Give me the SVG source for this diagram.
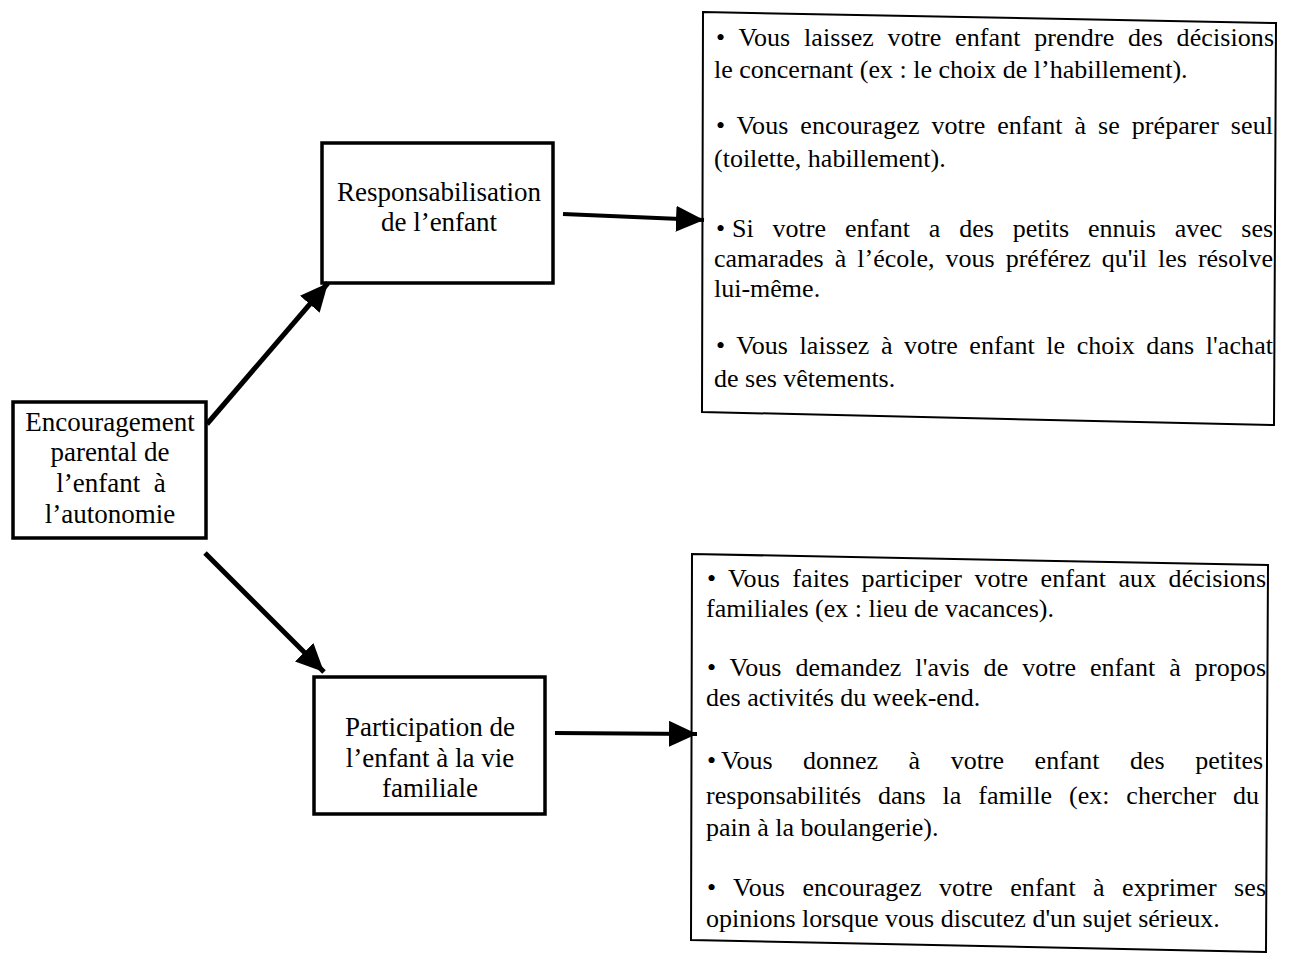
<svg xmlns="http://www.w3.org/2000/svg" width="1292" height="953" viewBox="0 0 1292 953">
<style>
.box{fill:none;stroke:#000;stroke-width:3.5}
.tbox{fill:none;stroke:#000;stroke-width:2}
.lbl{font-family:"Liberation Serif","Times New Roman",serif;font-size:27px;fill:#000;text-anchor:middle}
.txt{font-family:"Liberation Serif","Times New Roman",serif;font-size:26px;fill:#000}
.conn{stroke:#000;stroke-width:5;fill:none}
</style>
<defs>
<marker id="ah" markerUnits="userSpaceOnUse" markerWidth="30" markerHeight="26" refX="28" refY="13" orient="auto">
<path d="M0,0 L28,13 L0,26 z" fill="#000"/>
</marker>
</defs>
<rect width="1292" height="953" fill="#fff"/>
<g id="connectors">
<line class="conn" x1="207" y1="424" x2="328" y2="283" marker-end="url(#ah)"/>
<line class="conn" x1="205" y1="553" x2="324" y2="672" marker-end="url(#ah)"/>
<line class="conn" x1="563" y1="214" x2="704" y2="220" marker-end="url(#ah)" style="stroke-width:4"/>
<line class="conn" x1="555" y1="733" x2="697" y2="734" marker-end="url(#ah)" style="stroke-width:4"/>
</g>
<g id="n-encouragement">
<rect class="box" x="13" y="402" width="193" height="136"/>
<text class="lbl" x="110" y="431">Encouragement</text>
<text class="lbl" x="110" y="461">parental de</text>
<text class="lbl" x="111" y="492">l’enfant&#160; à</text>
<text class="lbl" x="110" y="523">l’autonomie</text>
</g>
<g id="n-responsabilisation">
<rect class="box" x="322" y="143" width="231" height="140"/>
<text class="lbl" x="439" y="201">Responsabilisation</text>
<text class="lbl" x="439" y="231">de l’enfant</text>
</g>
<g id="n-participation">
<rect class="box" x="314" y="677" width="231" height="137"/>
<text class="lbl" x="430" y="736">Participation de</text>
<text class="lbl" x="430" y="767">l’enfant à la vie</text>
<text class="lbl" x="430" y="797">familiale</text>
</g>
<g id="n-items-top">
<polygon class="tbox" points="703,12 1276,23 1274,425 702,412"/>
<text class="txt" x="716" y="46" word-spacing="7.1" textLength="558" lengthAdjust="spacing">• Vous laissez votre enfant prendre des décisions</text>
<text class="txt" x="714" y="78">le concernant (ex : le choix de l’habillement).</text>
<text class="txt" x="716" y="134" word-spacing="5.3" textLength="557" lengthAdjust="spacing">• Vous encouragez votre enfant à se préparer seul</text>
<text class="txt" x="714" y="167">(toilette, habillement).</text>
<text class="txt" x="716" y="237">•<tspan x="732" word-spacing="12.4">Si votre enfant a des petits ennuis avec ses</tspan></text>
<text class="txt" x="714" y="267" word-spacing="4.5" textLength="559" lengthAdjust="spacing">camarades à l’école, vous préférez qu'il les résolve</text>
<text class="txt" x="714" y="297">lui-même.</text>
<text class="txt" x="716" y="354" word-spacing="4.9" textLength="557" lengthAdjust="spacing">• Vous laissez à votre enfant le choix dans l'achat</text>
<text class="txt" x="714" y="387">de ses vêtements.</text>
</g>
<g id="n-items-bottom">
<polygon class="tbox" points="692,554 1268,565 1266,952 691,940"/>
<text class="txt" x="707" y="587" word-spacing="5.8" textLength="559" lengthAdjust="spacing">• Vous faites participer votre enfant aux décisions</text>
<text class="txt" x="706" y="617">familiales (ex : lieu de vacances).</text>
<text class="txt" x="707" y="676" word-spacing="7.3" textLength="559" lengthAdjust="spacing">• Vous demandez l'avis de votre enfant à propos</text>
<text class="txt" x="706" y="706">des activités du week-end.</text>
<text class="txt" x="707" y="769">•<tspan x="721" word-spacing="24">Vous donnez à votre enfant des petites</tspan></text>
<text class="txt" x="706" y="804" word-spacing="10.3" textLength="553" lengthAdjust="spacing">responsabilités dans la famille (ex: chercher du</text>
<text class="txt" x="706" y="836">pain à la boulangerie).</text>
<text class="txt" x="707" y="896" word-spacing="10.8" textLength="559" lengthAdjust="spacing">• Vous encouragez votre enfant à exprimer ses</text>
<text class="txt" x="706" y="927">opinions lorsque vous discutez d'un sujet sérieux.</text>
</g>
</svg>
